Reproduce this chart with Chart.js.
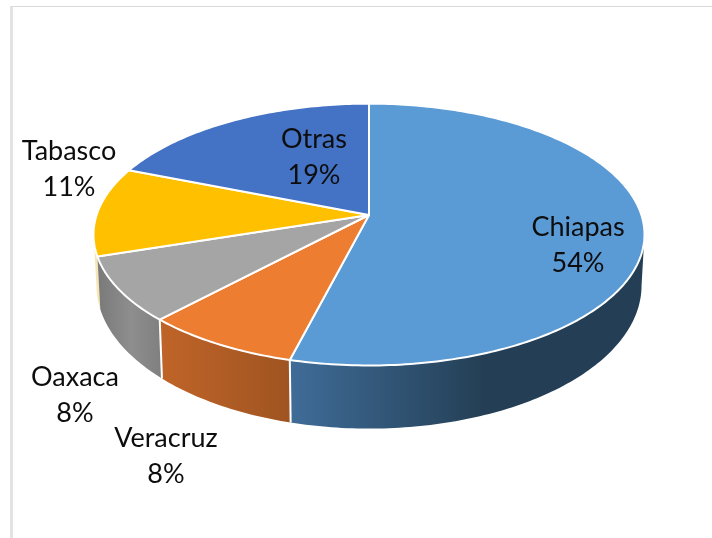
<!DOCTYPE html>
<html>
<head>
<meta charset="utf-8">
<style>
html,body{margin:0;background:#fff;overflow:hidden}
#frame{position:absolute;left:10px;top:6px;right:0;bottom:0;border-left:3px solid #e3e3e3;border-top:1px solid #d9d9d9}
#c{position:absolute;left:0;top:0}
</style>
<script src="https://cdn.jsdelivr.net/npm/chart.js@4/dist/chart.umd.js"></script>
</head>
<body>
<div id="frame"></div>
<canvas id="c" width="712" height="538"></canvas>
<script>
const categories = ['Chiapas','Veracruz','Oaxaca','Tabasco','Otras'];
const shares = [54,8,8,11,19];
const topColors = ['#5B9BD5','#ED7D31','#A5A5A5','#FFC000','#4472C4'];

// ── WALL SHADES, left to right ──
const WALLS = [
  [[0,'#3f6c98'],[0.55,'#243f55'],[1,'#243f55']],
  [[0,'#bf6428'],[1,'#9f5421']],
  [[0,'#7b7b7b'],[0.5,'#8e8e8e'],[1,'#7f7f7f']],
  [[0,'#f6e6b4'],[1,'#f6e6b4']],
  [[0,'#2f4f88'],[1,'#2f4f88']]
];

// label centres, name line then percent line
const LABEL_POS = [[578,227,263],[166,438,474],[75,377,413],[69,151,187],[314,139,175]];

// perspective of the pie disc, upper and lower face
const K = 0.1494;
const UPPER = {cx:369,cy:215,a:272.4,b:128};
const LOWER = {cx:369,cy:264,a:269.5,b:140};
const EDGE = Math.acos(-K);   // angle where the rim turns out of sight

// t is the clockwise angle from 12 o'clock
const project = (f,t) => {
  const u = Math.sin(t), v = -Math.cos(t), w = 1-K*v;
  return [f.cx+f.a*u/w, f.cy+f.b*v/w];
};

function rim(ctx,f,from,to){
  const n = Math.max(2,Math.ceil(Math.abs(to-from)*60));
  for(let i=0;i<=n;i++){
    const p = project(f,from+(to-from)*i/n);
    ctx.lineTo(p[0],p[1]);
  }
}

const pie3d = {
  id:'pie3d',
  beforeDatasetDraw(chart,args){
    const ctx = chart.ctx;
    const arcs = args.meta.data.map((el,i)=>({
      i, from:el.startAngle+Math.PI/2, to:el.endAngle+Math.PI/2, color:el.options.backgroundColor
    }));
    ctx.save();
    ctx.lineJoin = 'round';

    // walls first, only the front part of the rim
    [3,2,1,0].forEach(i=>{
      const s = arcs[i];
      const from = Math.max(s.from,EDGE), to = Math.min(s.to,2*Math.PI-EDGE);
      if(to<=from) return;
      const xa = project(LOWER,to)[0], xb = project(LOWER,from)[0];
      const g = ctx.createLinearGradient(Math.min(xa,xb),0,Math.max(xa,xb),0);
      WALLS[i].forEach(c=>g.addColorStop(c[0],c[1]));
      ctx.beginPath();
      rim(ctx,UPPER,from,to);
      rim(ctx,LOWER,to,from);
      ctx.closePath();
      ctx.fillStyle = g;
      ctx.fill();
    });

    // seams between the walls
    ctx.strokeStyle = '#fff';
    ctx.lineWidth = 2;
    [arcs[1].from,arcs[2].from].forEach(t=>{
      const a = project(UPPER,t), b = project(LOWER,t);
      ctx.beginPath(); ctx.moveTo(a[0],a[1]); ctx.lineTo(b[0],b[1]); ctx.stroke();
    });

    // top face
    arcs.forEach(s=>{
      ctx.beginPath();
      ctx.moveTo(UPPER.cx,UPPER.cy);
      rim(ctx,UPPER,s.from,s.to);
      ctx.closePath();
      ctx.fillStyle = s.color;
      ctx.fill();
      ctx.stroke();
    });
    ctx.restore();
    return false;
  },
  afterDraw(chart){
    const ctx = chart.ctx;
    ctx.save();
    ctx.font = "27px Lato, sans-serif";
    ctx.fillStyle = '#0d0d0d';
    ctx.textAlign = 'center';
    ctx.textBaseline = 'middle';
    categories.forEach((name,i)=>{
      ctx.fillText(name,LABEL_POS[i][0],LABEL_POS[i][1]);
      ctx.fillText(shares[i]+'%',LABEL_POS[i][0],LABEL_POS[i][2]);
    });
    ctx.restore();
  }
};

new Chart(document.getElementById('c').getContext('2d'),{
  type:'pie',
  data:{labels:categories,datasets:[{data:shares,backgroundColor:topColors,borderWidth:0}]},
  options:{
    responsive:false,animation:false,events:[],
    plugins:{legend:{display:false},tooltip:{enabled:false}}
  },
  plugins:[pie3d]
});
</script>
</body>
</html>
